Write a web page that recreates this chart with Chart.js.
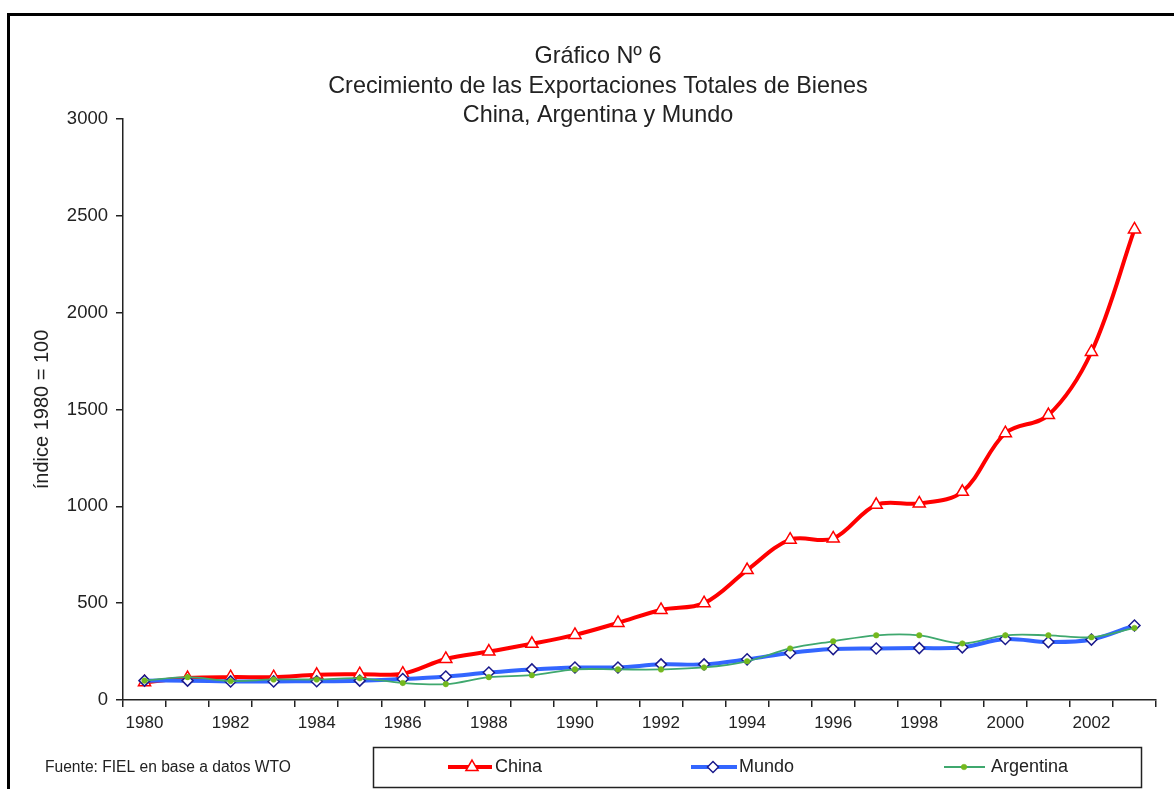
<!DOCTYPE html>
<html>
<head>
<meta charset="utf-8">
<script src="https://cdn.jsdelivr.net/npm/chart.js@4/dist/chart.umd.min.js"></script>
<style>
  html, body { margin: 0; padding: 0; background: #fff; }
  #wrap { width: 1174px; height: 789px; position: relative; }
</style>
</head>
<body>
<div id="wrap"><canvas id="c" width="1174" height="789"></canvas></div>
<script>
// ---- data ----
const years = ['1980','1981','1982','1983','1984','1985','1986','1987','1988','1989','1990','1991',
               '1992','1993','1994','1995','1996','1997','1998','1999','2000','2001','2002','2003'];
const china = [92, 113, 118, 118, 130, 133, 136, 212, 250, 290, 336, 398,
               465, 500, 671, 828, 834, 1008, 1015, 1075, 1378, 1471, 1797, 2430];
const mundo = [100, 100, 96, 96, 97, 100, 108, 121, 142, 158, 168, 168,
               184, 184, 210, 243, 263, 266, 268, 272, 315, 299, 312, 385];
const argentina = [100, 118, 98, 106, 106, 112, 88, 82, 118, 128, 158, 158,
                   158, 168, 200, 266, 303, 334, 334, 292, 334, 334, 324, 372];
const yTicks = [0, 500, 1000, 1500, 2000, 2500, 3000];
const titleLines = ['Gráfico Nº 6', 'Crecimiento de las Exportaciones Totales de Bienes', 'China, Argentina y Mundo'];
const yTitle = 'índice 1980 = 100';
const sourceText = 'Fuente: FIEL en base a datos WTO';
const seriesNames = ['China', 'Mundo', 'Argentina'];

const FONT = '"Liberation Sans", Arial, sans-serif';
const TXT = '#222';

const decor = {
  id: 'decor',
  beforeDraw(chart) {
    const ctx = chart.ctx;
    ctx.save();
    ctx.fillStyle = '#fff';
    ctx.fillRect(0, 0, chart.width, chart.height);
    ctx.restore();
  },
  afterDraw(chart) {
    const ctx = chart.ctx;
    ctx.save();
    // outer frame
    ctx.strokeStyle = '#000';
    ctx.lineWidth = 3;
    ctx.strokeRect(8.5, 14.5, 1400, 1000);
    // title
    ctx.fillStyle = TXT;
    ctx.font = '23.4px ' + FONT;
    ctx.textAlign = 'center';
    ctx.textBaseline = 'middle';
    titleLines.forEach((t, i) => ctx.fillText(t, 598, 57 + i * 29.5));
    // source
    ctx.font = '15.6px ' + FONT;
    ctx.textAlign = 'left';
    ctx.fillText(sourceText, 45, 768);
    // legend box
    ctx.strokeStyle = '#222';
    ctx.lineWidth = 1.5;
    ctx.strokeRect(373.5, 747.5, 768, 40);
    const items = [
      {x0: 448, x1: 492, mx: 472, tx: 495},
      {x0: 691, x1: 737, mx: 713, tx: 739},
      {x0: 944, x1: 985, mx: 964, tx: 991}
    ];
    const ly = 767;
    chart.data.datasets.forEach((ds, i) => {
      const it = items[i];
      ctx.strokeStyle = ds.borderColor;
      ctx.lineWidth = ds.borderWidth;
      ctx.beginPath();
      ctx.moveTo(it.x0, ly);
      ctx.lineTo(it.x1, ly);
      ctx.stroke();
      ctx.fillStyle = ds.pointBackgroundColor;
      ctx.strokeStyle = ds.pointBorderColor;
      ctx.lineWidth = ds.pointBorderWidth;
      Chart.helpers.drawPoint(ctx, {pointStyle: ds.pointStyle, radius: ds.pointRadius, rotation: 0, borderWidth: ds.pointBorderWidth}, it.mx, ly);
      ctx.fillStyle = TXT;
      ctx.font = '18px ' + FONT;
      ctx.textAlign = 'left';
      ctx.textBaseline = 'middle';
      ctx.fillText(ds.label, it.tx, ly);
    });
    ctx.restore();
  }
};

new Chart(document.getElementById('c'), {
  type: 'line',
  data: {
    labels: years,
    datasets: [
      {
        label: seriesNames[0], data: china, order: 3,
        borderColor: '#ff0000', borderWidth: 4, tension: 0.35,
        pointStyle: 'triangle', pointRadius: 7, pointBorderWidth: 1.5,
        pointBackgroundColor: '#ffffff', pointBorderColor: '#ff0000'
      },
      {
        label: seriesNames[1], data: mundo, order: 2,
        borderColor: '#3366ff', borderWidth: 4, tension: 0.35,
        pointStyle: 'rectRot', pointRadius: 5.5, pointBorderWidth: 1.5,
        pointBackgroundColor: '#ffffff', pointBorderColor: '#1a1a8c'
      },
      {
        label: seriesNames[2], data: argentina, order: 1,
        borderColor: '#3fa86e', borderWidth: 1.8, tension: 0.35,
        pointStyle: 'circle', pointRadius: 2.8, pointBorderWidth: 0.5,
        pointBackgroundColor: '#74b81e', pointBorderColor: '#74b81e'
      }
    ]
  },
  options: {
    responsive: false,
    animation: false,
    devicePixelRatio: 1,
    layout: { padding: { left: 0, top: 119, right: 18, bottom: 49 } },
    plugins: {
      legend: { display: false },
      title: { display: false },
      tooltip: { enabled: false }
    },
    scales: {
      x: {
        type: 'category',
        offset: true,
        grid: { offset: true, drawOnChartArea: false, tickLength: 7, color: '#222', lineWidth: 1.5 },
        border: { display: true, color: '#222', width: 1.5 },
        ticks: {
          autoSkip: false, maxRotation: 0, padding: 6, color: TXT,
          font: { family: FONT, size: 17 },
          callback: function (v, i) { return i % 2 === 0 ? this.getLabelForValue(v) : ''; }
        },
        afterFit(s) { s.height = 40; }
      },
      y: {
        min: 0, max: 3000,
        afterBuildTicks(s) { s.ticks = yTicks.map(v => ({ value: v })); },
        grid: { drawOnChartArea: false, tickLength: 7, color: '#222', lineWidth: 1.5 },
        border: { display: true, color: '#222', width: 1.5 },
        ticks: {
          padding: 8, color: TXT, font: { family: FONT, size: 18.5 },
          callback: (v) => String(v)
        },
        title: {
          display: true, text: yTitle, color: TXT,
          font: { family: FONT, size: 20 },
          padding: { top: 30, bottom: 0 }
        },
        afterFit(s) { s.width = 123; }
      }
    }
  },
  plugins: [decor]
});
</script>
</body>
</html>
